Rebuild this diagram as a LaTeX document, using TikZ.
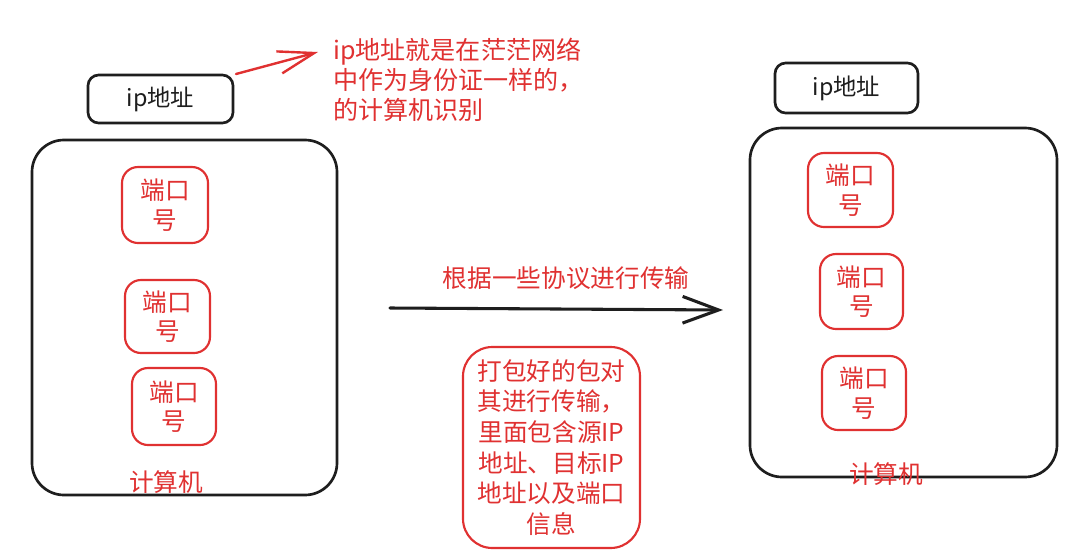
\documentclass[tikz,border=0pt]{standalone}
\usepackage{fontspec}
\setmainfont{Noto Sans CJK SC}
\usetikzlibrary{arrows.meta}
\definecolor{exred}{RGB}{224,49,49}
\definecolor{exblack}{RGB}{30,30,30}
\begin{document}
\begin{tikzpicture}[x=0.75pt,y=-0.75pt,
  blackbox/.style={draw=exblack,line width=2pt,rounded corners=8pt,inner sep=0pt,align=center,font=\fontsize{17.5}{20}\selectfont,text=exblack},
  bigbox/.style={draw=exblack,line width=2pt,rounded corners=24pt,inner sep=0pt},
  portbox/.style={draw=exred,line width=1.6pt,rounded corners=12pt,inner sep=0pt,align=center,text=exred,font=\fontsize{18.5}{22}\selectfont},
  redtext/.style={text=exred,inner sep=0pt,font=\fontsize{18.5}{22}\selectfont},
  redarrow/.style={draw=exred,line width=1.8pt,line cap=round,-{Straight Barb[length=27pt,width=17pt,line width=1.8pt]}},
  blackarrow/.style={draw=exblack,line width=2.3pt,line cap=round,-{Straight Barb[length=27pt,width=20pt,line width=2.3pt]}}
]
\useasboundingbox[fill=white] (0,0) rectangle (1079,554);

% left computer
\node[blackbox,minimum width=108.75pt,minimum height=36pt] (ipL) at (160.5,99) {ip地址};
\node[bigbox,minimum width=228.75pt,minimum height=266.25pt] (pcL) at (184.5,317.5) {};
\node[portbox,minimum width=64.5pt,minimum height=57pt] (pL1) at (165,205) {端口\\号};
\node[portbox,minimum width=63.75pt,minimum height=54.75pt] (pL2) at (167.5,316.5) {端口\\号};
\node[portbox,minimum width=63pt,minimum height=57.75pt] (pL3) at (174,406.5) {端口\\号};
\node[redtext] (cL) at (166,482) {计算机};

% callout
\node[redtext,anchor=north west,align=left,font=\fontsize{18.8}{22.5}\selectfont] (note) at (333,38) {ip地址就是在茫茫网络\\中作为身份证一样的，\\的计算机识别};
\coordinate (ra) at (236,74);
\coordinate (rb) at (318,52);
\draw[redarrow] (ra) -- (rb);

% transfer arrow
\node[redtext] (lab) at (566,278) {根据一些协议进行传输};
\coordinate (ma) at (390,308);
\coordinate (mb) at (723,310);
\draw[blackarrow] (ma) -- (mb);

% packet
\node[portbox,rounded corners=22pt,minimum width=132.75pt,minimum height=150.75pt,font=\fontsize{18.5}{23}\selectfont] (pkt) at (551.5,447.5) {打包好的包对\\其进行传输，\\里面包含源IP\\地址、目标IP\\地址以及端口\\信息};

% right computer
\node[blackbox,minimum width=107.25pt,minimum height=37.5pt] (ipR) at (846.5,88) {ip地址};
\node[bigbox,minimum width=230.25pt,minimum height=261.75pt] (pcR) at (903.5,302.5) {};
\node[portbox,minimum width=63.75pt,minimum height=55.5pt] (pR1) at (850.5,190) {端口\\号};
\node[portbox,minimum width=62.25pt,minimum height=56.25pt] (pR2) at (861.5,291.5) {端口\\号};
\node[portbox,minimum width=63pt,minimum height=55.5pt] (pR3) at (864,393) {端口\\号};
\node[redtext] (cR) at (886,474) {计算机};
\end{tikzpicture}
\end{document}
